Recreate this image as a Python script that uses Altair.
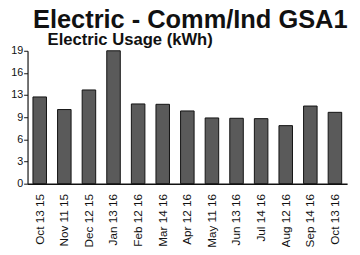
import altair as alt
import pandas as pd

dates = ["Oct 13 15", "Nov 11 15", "Dec 12 15", "Jan 13 16", "Feb 12 16", "Mar 14 16",
         "Apr 12 16", "May 11 16", "Jun 13 16", "Jul 14 16", "Aug 12 16", "Sep 14 16", "Oct 13 16"]
usage = [12.4, 10.6, 13.4, 19.0, 11.4, 11.35, 10.4, 9.4, 9.35, 9.3, 8.3, 11.1, 10.2]
y_ticks = [0, 3.17, 6.33, 9.5, 12.67, 15.83, 19]

df = pd.DataFrame({"date": dates, "usage": usage})

chart = alt.Chart(df).mark_bar(
    fill="#5a5a5a", stroke="#111111", strokeWidth=1
).encode(
    x=alt.X("date:N", sort=dates, title=None,
            scale=alt.Scale(paddingInner=0.45, paddingOuter=0.22),
            axis=alt.Axis(labelAngle=-90, ticks=False, labelPadding=10,
                          labelFontSize=12, labelFont="Liberation Sans",
                          labelColor="#111", domainColor="#111", domainWidth=1.5)),
    y=alt.Y("usage:Q", title="Electric Usage (kWh)",
            scale=alt.Scale(domain=[0, 19], nice=False),
            axis=alt.Axis(values=y_ticks, grid=False, tickSize=4, tickColor="#111",
                          domainColor="#111", domainWidth=1.2,
                          labelExpr="datum.value == 9.5 ? '9' : format(round(datum.value), 'd')",
                          labelFontSize=11, labelFont="Liberation Sans", labelColor="#111",
                          labelPadding=1,
                          titleAngle=0, titleX=20, titleY=-6, titleAlign="left",
                          titleBaseline="alphabetic",
                          titleFont="Liberation Sans", titleFontSize=17,
                          titleFontWeight="bold", titleColor="#111")),
).properties(
    width=327, height=136,
    autosize=alt.AutoSizeParams(type="none"),
    padding={"left": 20, "top": 41, "right": 5, "bottom": 62},
    title=alt.TitleParams("Electric - Comm/Ind GSA1", font="Liberation Sans",
                          fontSize=26, fontWeight="bold", color="#111",
                          anchor="middle", offset=4, dy=6, dx=3),
).configure_view(stroke=None)

chart.save("out.html", embed_options={"renderer": "svg", "actions": False})
